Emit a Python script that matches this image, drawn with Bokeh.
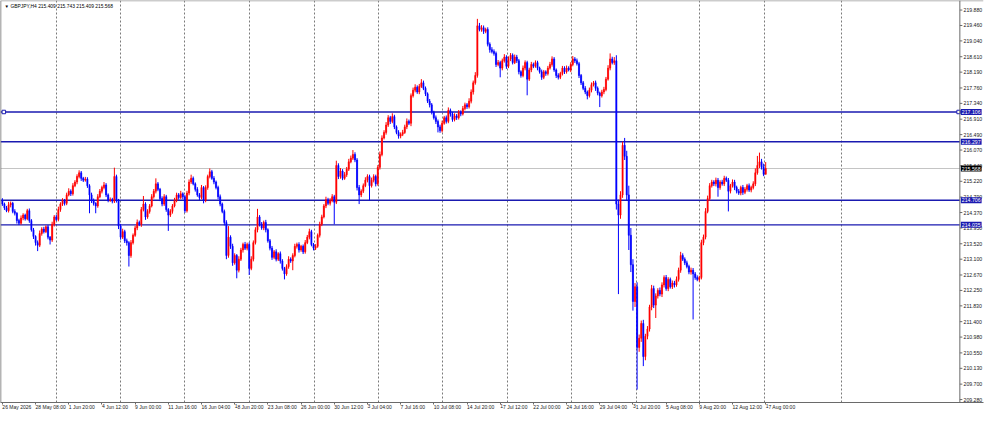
from bokeh.plotting import figure
from bokeh.models import Range1d, FixedTicker, Span, Label, NumeralTickFormatter, ColumnDataSource
from bokeh.embed import file_html
from bokeh.resources import INLINE

# ---------------- data ----------------
symbol = "GBPJPY,H4"
first_open = 214.70

closes = [
    214.60, 214.50, 214.42, 214.58, 214.62, 214.40, 214.35, 214.15, 214.08, 214.22,
    214.30, 214.20, 214.42, 214.15, 213.90, 213.72, 213.55, 213.48, 213.80, 213.92,
    213.85, 213.98, 213.70, 213.62, 214.05, 214.25, 214.18, 214.45, 214.60, 214.70,
    214.62, 214.85, 214.95, 214.88, 215.10, 215.20, 215.35, 215.45, 215.30, 215.25,
    215.28, 215.10, 214.85, 214.70, 214.62, 214.55, 214.80, 214.95, 215.05, 215.12,
    214.85, 214.70, 214.72, 214.68, 215.35, 214.70, 214.00, 213.70, 213.85, 213.60,
    213.55, 213.20, 213.55, 213.75, 213.95, 214.10, 214.05, 214.45, 214.60, 214.25,
    214.40, 214.55, 214.80, 214.95, 215.15, 215.00, 214.75, 214.60, 214.80, 214.45,
    214.30, 214.40, 214.55, 214.70, 214.85, 214.78, 214.88, 214.80, 214.42, 214.90,
    215.20, 215.30, 215.15, 215.00, 214.85, 214.78, 215.05, 214.70, 215.05, 215.35,
    215.48, 215.30, 215.20, 215.05, 214.80, 214.60, 214.40, 214.10, 213.20, 213.70,
    213.45, 213.00, 213.20, 212.80, 213.10, 213.35, 213.50, 213.40, 213.50, 212.85,
    213.10, 213.55, 213.90, 214.25, 214.05, 213.95, 214.10, 213.90, 213.60, 213.40,
    213.15, 213.30, 213.10, 213.25, 213.05, 212.85, 212.70, 212.90, 213.10, 213.05,
    213.20, 213.45, 213.50, 213.35, 213.45, 213.30, 213.55, 213.70, 213.85, 213.50,
    213.40, 213.45, 213.75, 214.05, 214.25, 214.55, 214.72, 214.62, 214.70, 214.80,
    214.65, 215.65, 215.35, 215.50, 215.30, 215.40, 215.55, 215.75, 215.85, 215.95,
    215.80, 215.05, 214.85, 214.95, 215.10, 215.25, 215.35, 215.10, 215.25, 215.35,
    215.15, 215.60, 215.95, 216.40, 216.55, 216.75, 216.95, 216.85, 216.98, 216.70,
    216.55, 216.45, 216.50, 216.55, 216.70, 216.85, 216.80, 217.55, 217.70, 217.78,
    217.65, 217.80, 217.90, 217.75, 217.60, 217.40, 217.30, 217.10, 216.95, 216.85,
    216.70, 216.60, 216.80, 216.95, 216.85, 217.15, 217.05, 216.90, 217.00, 216.95,
    217.10, 217.05, 217.20, 217.30, 217.25, 217.40, 217.65, 217.90, 218.10, 219.45,
    219.35, 219.40, 219.30, 219.35, 218.95, 218.80, 218.75, 218.70, 218.40, 218.45,
    218.30, 218.50, 218.60, 218.35, 218.55, 218.65, 218.45, 218.60, 218.50, 218.20,
    218.10, 218.30, 218.45, 218.00, 218.25, 218.40, 218.35, 218.45, 218.30, 218.20,
    218.05, 218.20, 218.15, 218.30, 218.40, 218.55, 218.25, 218.10, 218.05, 218.15,
    218.30, 218.20, 218.30, 218.25, 218.40, 218.55, 218.50, 218.42, 218.10, 217.90,
    217.75, 217.65, 217.55, 217.70, 217.85, 217.90, 217.75, 217.62, 217.55, 217.65,
    217.72, 218.00, 218.30, 218.55, 218.45, 218.50, 214.60, 214.30, 214.85, 216.20,
    215.90, 214.85, 213.75, 212.95, 211.95, 212.35, 210.70, 210.95, 211.35, 210.45,
    211.00, 211.20, 211.80, 212.30, 211.85, 212.10, 212.25, 212.15, 212.40, 212.60,
    212.30, 212.55, 212.35, 212.45, 212.40, 212.55, 212.80, 213.20, 213.10, 213.00,
    212.90, 212.75, 212.80, 212.70, 212.60, 212.55, 212.60, 213.55, 213.70, 214.40,
    214.75, 215.10, 215.20, 215.15, 215.25, 215.05, 215.20, 215.15, 215.30, 215.25,
    214.95, 215.10, 215.20, 215.05, 214.95, 214.90, 215.05, 214.92, 215.00, 215.10,
    214.98, 215.05, 215.15, 215.45, 215.65, 215.75, 215.60, 215.409, 215.568,
]

up_wick = [
    0.06, 0.04, 0.05, 0.08, 0.05, 0.04, 0.06, 0.03, 0.05, 0.07,
    0.05, 0.04, 0.05, 0.06, 0.04, 0.05, 0.03, 0.06, 0.08, 0.05,
    0.06, 0.04, 0.05, 0.03, 0.07, 0.05, 0.06, 0.08, 0.05, 0.06,
    0.04, 0.06, 0.08, 0.05, 0.07, 0.05, 0.06, 0.07, 0.05, 0.04,
    0.06, 0.05, 0.04, 0.06, 0.05, 0.03, 0.07, 0.06, 0.05, 0.08,
    0.05, 0.04, 0.06, 0.05, 0.24, 0.05, 0.04, 0.06, 0.08, 0.05,
    0.06, 0.04, 0.07, 0.05, 0.06, 0.08, 0.05, 0.07, 0.22, 0.05,
    0.06, 0.05, 0.07, 0.06, 0.15, 0.05, 0.04, 0.06, 0.07, 0.05,
    0.04, 0.06, 0.05, 0.07, 0.06, 0.05, 0.08, 0.04, 0.05, 0.06,
    0.07, 0.10, 0.05, 0.04, 0.06, 0.05, 0.07, 0.04, 0.06, 0.05,
    0.09, 0.05, 0.06, 0.04, 0.05, 0.06, 0.04, 0.05, 0.06, 0.30,
    0.05, 0.07, 0.06, 0.04, 0.08, 0.06, 0.05, 0.07, 0.05, 0.06,
    0.08, 0.06, 0.07, 0.22, 0.05, 0.06, 0.05, 0.07, 0.04, 0.05,
    0.06, 0.05, 0.07, 0.04, 0.06, 0.05, 0.04, 0.06, 0.08, 0.05,
    0.06, 0.07, 0.05, 0.06, 0.04, 0.05, 0.07, 0.06, 0.08, 0.05,
    0.04, 0.06, 0.05, 0.07, 0.06, 0.05, 0.08, 0.05, 0.06, 0.07,
    0.05, 0.13, 0.06, 0.08, 0.05, 0.07, 0.06, 0.08, 0.07, 0.12,
    0.06, 0.05, 0.07, 0.05, 0.06, 0.08, 0.06, 0.05, 0.07, 0.06,
    0.05, 0.06, 0.08, 0.07, 0.06, 0.08, 0.07, 0.05, 0.09, 0.05,
    0.04, 0.06, 0.05, 0.07, 0.06, 0.08, 0.05, 0.06, 0.07, 0.08,
    0.05, 0.07, 0.10, 0.06, 0.05, 0.04, 0.06, 0.05, 0.04, 0.06,
    0.05, 0.06, 0.07, 0.05, 0.06, 0.08, 0.05, 0.06, 0.07, 0.05,
    0.06, 0.05, 0.07, 0.06, 0.05, 0.08, 0.07, 0.06, 0.09, 0.19,
    0.08, 0.07, 0.06, 0.05, 0.06, 0.05, 0.07, 0.06, 0.05, 0.07,
    0.05, 0.06, 0.08, 0.05, 0.07, 0.06, 0.05, 0.07, 0.06, 0.05,
    0.04, 0.07, 0.06, 0.05, 0.06, 0.07, 0.05, 0.06, 0.05, 0.04,
    0.06, 0.05, 0.04, 0.06, 0.07, 0.07, 0.05, 0.04, 0.06, 0.05,
    0.06, 0.05, 0.07, 0.05, 0.06, 0.08, 0.05, 0.06, 0.05, 0.04,
    0.05, 0.06, 0.04, 0.07, 0.06, 0.05, 0.06, 0.05, 0.04, 0.06,
    0.07, 0.06, 0.08, 0.15, 0.06, 0.10, 0.15, 0.12, 0.10, 0.10,
    0.20, 0.15, 0.25, 0.20, 0.15, 0.10, 0.12, 0.10, 0.08, 0.10,
    0.07, 0.08, 0.06, 0.10, 0.08, 0.07, 0.06, 0.08, 0.07, 0.06,
    0.07, 0.06, 0.05, 0.07, 0.06, 0.08, 0.07, 0.10, 0.06, 0.05,
    0.06, 0.05, 0.07, 0.06, 0.05, 0.06, 0.05, 0.08, 0.07, 0.09,
    0.08, 0.07, 0.06, 0.05, 0.07, 0.06, 0.05, 0.06, 0.07, 0.05,
    0.06, 0.05, 0.07, 0.06, 0.05, 0.06, 0.05, 0.07, 0.06, 0.05,
    0.06, 0.05, 0.07, 0.12, 0.26, 0.25, 0.08, 0.10, 0.175,
]

down_wick = [
    0.05, 0.06, 0.04, 0.05, 0.07, 0.05, 0.06, 0.08, 0.05, 0.04,
    0.06, 0.05, 0.04, 0.06, 0.05, 0.07, 0.08, 0.16, 0.05, 0.06,
    0.05, 0.04, 0.06, 0.12, 0.05, 0.06, 0.04, 0.05, 0.06, 0.05,
    0.06, 0.05, 0.04, 0.06, 0.05, 0.04, 0.06, 0.05, 0.07, 0.05,
    0.04, 0.06, 0.50, 0.07, 0.06, 0.20, 0.05, 0.04, 0.06, 0.05,
    0.06, 0.05, 0.04, 0.06, 0.05, 0.06, 0.08, 0.07, 0.05, 0.06,
    0.08, 0.30, 0.06, 0.05, 0.04, 0.06, 0.05, 0.07, 0.05, 0.08,
    0.05, 0.06, 0.04, 0.05, 0.06, 0.05, 0.07, 0.06, 0.05, 0.06,
    0.43, 0.05, 0.06, 0.04, 0.05, 0.06, 0.05, 0.07, 0.06, 0.05,
    0.06, 0.05, 0.04, 0.06, 0.05, 0.07, 0.05, 0.08, 0.05, 0.06,
    0.05, 0.04, 0.06, 0.05, 0.07, 0.06, 0.05, 0.08, 0.10, 0.06,
    0.07, 0.08, 0.05, 0.22, 0.06, 0.05, 0.07, 0.05, 0.06, 0.18,
    0.05, 0.06, 0.05, 0.07, 0.06, 0.05, 0.06, 0.07, 0.05, 0.06,
    0.07, 0.05, 0.06, 0.05, 0.07, 0.06, 0.15, 0.05, 0.06, 0.05,
    0.25, 0.05, 0.06, 0.07, 0.05, 0.06, 0.05, 0.04, 0.06, 0.05,
    0.06, 0.05, 0.04, 0.06, 0.05, 0.04, 0.06, 0.05, 0.06, 0.05,
    0.60, 0.05, 0.07, 0.06, 0.05, 0.04, 0.06, 0.05, 0.04, 0.05,
    0.06, 0.08, 0.25, 0.06, 0.05, 0.04, 0.06, 0.40, 0.05, 0.06,
    0.07, 0.05, 0.06, 0.05, 0.04, 0.06, 0.05, 0.07, 0.05, 0.06,
    0.05, 0.07, 0.06, 0.05, 0.04, 0.06, 0.05, 0.08, 0.05, 0.06,
    0.05, 0.06, 0.04, 0.05, 0.06, 0.05, 0.07, 0.06, 0.05, 0.07,
    0.15, 0.06, 0.05, 0.04, 0.06, 0.05, 0.07, 0.06, 0.05, 0.06,
    0.05, 0.06, 0.04, 0.05, 0.06, 0.05, 0.06, 0.07, 0.05, 0.06,
    0.05, 0.06, 0.07, 0.05, 0.06, 0.08, 0.05, 0.06, 0.07, 0.05,
    0.25, 0.06, 0.05, 0.07, 0.05, 0.06, 0.05, 0.04, 0.06, 0.07,
    0.06, 0.05, 0.06, 0.44, 0.05, 0.06, 0.05, 0.04, 0.06, 0.05,
    0.07, 0.05, 0.06, 0.05, 0.04, 0.06, 0.05, 0.07, 0.06, 0.05,
    0.05, 0.06, 0.05, 0.04, 0.06, 0.05, 0.06, 0.05, 0.07, 0.06,
    0.05, 0.06, 0.10, 0.05, 0.06, 0.05, 0.07, 0.06, 0.31, 0.05,
    0.06, 0.05, 0.04, 0.06, 0.05, 0.06, 0.15, 2.15, 0.10, 0.08,
    0.10, 0.15, 0.40, 0.20, 0.25, 0.15, 1.15, 0.12, 0.10, 0.26,
    0.10, 0.08, 0.07, 0.09, 0.08, 0.35, 0.07, 0.06, 0.08, 0.07,
    0.06, 0.07, 0.05, 0.06, 0.07, 0.05, 0.06, 0.07, 0.05, 0.06,
    0.05, 0.06, 0.07, 1.24, 0.06, 0.05, 0.06, 0.05, 0.07, 0.06,
    0.05, 0.06, 0.05, 0.06, 0.07, 0.25, 0.06, 0.05, 0.06, 0.05,
    0.55, 0.06, 0.05, 0.07, 0.06, 0.05, 0.06, 0.07, 0.05, 0.06,
    0.05, 0.06, 0.05, 0.06, 0.05, 0.07, 0.06, 0.05, 0.0,
]

time_labels = [
    "26 May 2026", "28 May 08:00", "1 Jun 20:00", "4 Jun 12:00", "9 Jun 00:00",
    "11 Jun 16:00", "16 Jun 04:00", "18 Jun 20:00", "23 Jun 08:00", "26 Jun 00:00",
    "30 Jun 12:00", "3 Jul 04:00", "7 Jul 16:00", "10 Jul 08:00", "14 Jul 20:00",
    "17 Jul 12:00", "22 Jul 00:00", "24 Jul 16:00", "29 Jul 04:00", "31 Jul 20:00",
    "5 Aug 08:00", "9 Aug 20:00", "12 Aug 12:00", "17 Aug 00:00",
]
bars_per_label = 16

price_ticks = [
    209.28, 209.70, 210.13, 210.55, 210.98, 211.40, 211.83, 212.25, 212.67,
    213.10, 213.52, 213.95, 214.37, 214.79, 215.22, 215.64, 216.07, 216.49,
    216.91, 217.34, 217.76, 218.19, 218.61, 219.04, 219.46, 219.88,
]

level_prices = [217.106, 216.297, 214.706, 214.035]
selected_level = 217.106
last_bar_ohlc = [215.409, 215.743, 215.409, 215.568]

# ---------------- derived ----------------
n = len(closes)
idx = list(range(n))
opens = [first_open] + closes[:-1]
highs = [max(o, c) + u for o, c, u in zip(opens, closes, up_wick)]
lows = [min(o, c) - d for o, c, d in zip(opens, closes, down_wick)]
colors = ["#ff0000" if c >= o else "#0000ff" for o, c in zip(opens, closes)]
src = ColumnDataSource(dict(
    x=idx, h=highs, l=lows,
    top=[max(o, c) for o, c in zip(opens, closes)],
    bot=[min(o, c) for o, c in zip(opens, closes)],
    col=colors,
))

# geometry (bar units): frame spans the whole width, price scale strip right of AXIS_X
W, H = 985, 415
X0, X1 = -0.9, 473.0
AXIS_X = 461.6
Y0, Y1 = 209.20, 220.14
px = W / (X1 - X0)          # screen px per bar

p = figure(width=W, height=H, output_backend="svg", toolbar_location=None,
           x_range=Range1d(X0, X1), y_range=Range1d(Y0, Y1),
           y_axis_location="right", min_border_left=0, min_border_top=0,
           min_border_right=0, min_border_bottom=0)
p.background_fill_color = "white"
p.border_fill_color = "white"
p.outline_line_color = None

grey = "#6a6a6a"
font = "Liberation Sans"

# dashed vertical grid
grid_bars = [26, 57, 88, 119, 150.4, 181.3, 212.4, 243.3, 274.2, 305.5, 336.2, 367.5, 404.6]
p.xgrid.ticker = FixedTicker(ticks=grid_bars)
p.xgrid.grid_line_color = "#7a7a7a"
p.xgrid.grid_line_dash = "2 2"
p.xgrid.grid_line_width = 1
p.ygrid.visible = False

# chart borders
p.add_layout(Span(location=X0, dimension="height", line_color=grey, line_width=1.5))
p.add_layout(Span(location=Y1, dimension="width", line_color="#9a9a9a", line_width=1.5))
p.add_layout(Span(location=AXIS_X, dimension="height", line_color=grey, line_width=1))

# horizontal level lines (end at the price scale)
p.segment(x0=X0, y0=last_bar_ohlc[3], x1=AXIS_X, y1=last_bar_ohlc[3],
          line_color="#c4c4c4", line_width=1)
p.segment(x0=[X0] * len(level_prices), y0=level_prices,
          x1=[AXIS_X] * len(level_prices), y1=level_prices,
          line_color="#1a1ab0", line_width=1.4)
p.scatter(x=[X0 + 1.6, AXIS_X - 0.6], y=[selected_level, selected_level], marker="square",
          size=3.5, fill_color="white", line_color="#1a1ab0", line_width=1)

# candles
p.segment(x0="x", y0="h", x1="x", y1="l", color="col", line_width=1, source=src)
p.vbar(x="x", width=0.55, top="top", bottom="bot", fill_color="col",
       line_color="col", line_width=0.6, source=src)

# time axis
xa = p.xaxis[0]
xa.ticker = FixedTicker(ticks=[i * bars_per_label for i in range(len(time_labels))])
xa.major_label_overrides = {i * bars_per_label: t for i, t in enumerate(time_labels)}
xa.major_label_orientation = -0.0001
xa.major_label_text_font = font
xa.major_label_text_font_size = "5px"
xa.major_label_text_color = "#202020"
xa.major_label_standoff = 2
xa.major_tick_in = 0
xa.major_tick_out = 2
xa.minor_tick_line_color = None
xa.axis_line_color = grey
xa.major_tick_line_color = grey
xa.axis_label_standoff = 0

# price axis: labels drawn into the strip right of AXIS_X
ya = p.yaxis[0]
ya.ticker = FixedTicker(ticks=price_ticks)
ya.formatter = NumeralTickFormatter(format="0.000")
ya.major_label_text_font = font
ya.major_label_text_font_size = "5.2px"
ya.major_label_text_color = "#202020"
ya.major_label_standoff = -int(round((X1 - AXIS_X) * px)) + 4
ya.major_tick_in = 0
ya.major_tick_out = 0
ya.minor_tick_line_color = None
ya.axis_line_color = None
ya.axis_label_standoff = 0
p.segment(x0=[AXIS_X] * len(price_ticks), y0=price_ticks,
          x1=[AXIS_X + 2.5 / px] * len(price_ticks), y1=price_ticks,
          line_color=grey, line_width=1)

# price tags on the price scale (drawn above the scale labels)
tag_extra = {"padding": 1} if "padding" in Label.properties() else {}
for lv in level_prices:
    p.add_layout(Label(x=AXIS_X, y=lv, x_offset=1, text=f"{lv:.3f}", text_font=font,
                       text_font_size="5.2px", text_color="white", text_baseline="middle",
                       background_fill_color="#1a1ab0", level="overlay", **tag_extra))
p.add_layout(Label(x=AXIS_X, y=last_bar_ohlc[3], x_offset=1, text=f"{last_bar_ohlc[3]:.3f}",
                   text_font=font, text_font_size="5.2px", text_color="white",
                   text_baseline="middle", background_fill_color="#000000",
                   level="overlay", **tag_extra))

# header
header = symbol + "  " + " ".join(f"{v:.3f}" for v in last_bar_ohlc)
p.add_layout(Label(x=X0, y=Y1, x_offset=4, y_offset=-3, text="\u25bc", text_font=font,
                   text_font_size="4.5px", text_color="#000000", text_baseline="top"))
p.add_layout(Label(x=X0, y=Y1, x_offset=10, y_offset=-3, text=header, text_font=font,
                   text_font_size="4.9px", text_color="#000000", text_baseline="top"))

open("out.html", "w").write(file_html(p, INLINE))
